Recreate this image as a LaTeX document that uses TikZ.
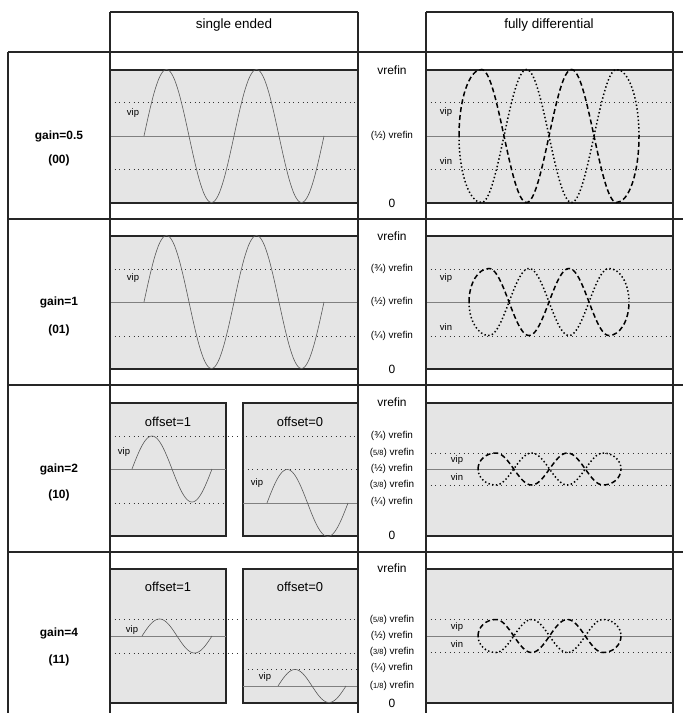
\documentclass[tikz,border=0pt]{standalone}
\usepackage{fontspec}
\setmainfont{Liberation Sans}
\newcommand\smallfr{\fontsize{7.5}{9}\selectfont}
% style, start x, period, centre y, signed amplitude
\newcommand\diffwave[5]{%
  \draw[#1] (#2,#4) .. controls (#2,{#4-0.552*#5}) and ({#2+0.112*#3},{#4-#5}) .. ({#2+#3/4},{#4-#5})
    -- plot[domain=90:630, samples=121] ({#2+\x/360*#3}, {#4-#5*sin(\x)})
    .. controls ({#2+1.888*#3},{#4+#5}) and ({#2+2*#3},{#4+0.552*#5}) .. ({#2+2*#3},#4);}
\begin{document}
\begin{tikzpicture}[x=1bp, y=-1bp,
  grid/.style={draw=black!85, line width=1.2bp},
  band/.style={fill=black!10, draw=black!85, line width=1.2bp},
  midline/.style={draw=black!50, line width=0.9bp},
  level/.style={draw=black!80, line width=0.9bp, dash pattern=on 0.9bp off 3.8bp},
  wave/.style={draw=black!65, line width=0.6bp},
  vp/.style={draw=black, line width=1.5bp, dash pattern=on 5bp off 3bp},
  vn/.style={draw=black, line width=1.5bp, dash pattern=on 1.4bp off 2.4bp},
  txt/.style={inner sep=0pt},
  head/.style={txt, font=\fontsize{13.5}{16}\selectfont},
  gain/.style={txt, font=\bfseries\fontsize{12}{14}\selectfont},
  ref/.style={txt, font=\fontsize{12}{14}\selectfont},
  frac/.style={txt, font=\fontsize{10}{12}\selectfont},
  sig/.style={txt, font=\fontsize{9.5}{11}\selectfont},
  offs/.style={txt, font=\fontsize{13}{15}\selectfont}]

\useasboundingbox (0,0) rectangle (683,713);

% ---------- gain=0.5 ----------
\draw[band] (110,70) rectangle (358,203);
\draw[band] (426,70) rectangle (673,203);
\draw[level] (110,102.7) -- (358,102.7);
\draw[level] (110,169.3) -- (358,169.3);
\draw[level] (426,102.7) -- (673,102.7);
\draw[level] (426,169.3) -- (673,169.3);
\draw[midline] (110,136) -- (358,136);
\draw[midline] (426,136) -- (673,136);
\draw[wave] plot[domain=0:720, samples=145] ({144+\x/4}, {136-66.5*sin(\x)});
\diffwave{vp}{459}{90}{136}{66.5}
\diffwave{vn}{459}{90}{136}{-66.5}
\node[sig] (vipa) at (133,113) {vip};
\node[sig] (vipda) at (446,112) {vip};
\node[sig] (vinda) at (446,161) {vin};
\node[gain] (gaina) at (59,136) {gain=0.5};
\node[gain] (codea) at (59,160) {(00)};
\node[ref] (topa) at (392,70) {vrefin};
\node[frac] (halfa) at (392,136) {(½) vrefin};
\node[ref] (zeroa) at (392,203) {0};

% ---------- gain=1 ----------
\draw[band] (110,236) rectangle (358,369);
\draw[band] (426,236) rectangle (673,369);
\draw[level] (110,269) -- (358,269);
\draw[level] (110,336) -- (358,336);
\draw[level] (426,269) -- (673,269);
\draw[level] (426,336) -- (673,336);
\draw[midline] (110,302) -- (358,302);
\draw[midline] (426,302) -- (673,302);
\draw[wave] plot[domain=0:720, samples=145] ({144+\x/4}, {302-66.5*sin(\x)});
\diffwave{vp}{469}{80}{302}{33.5}
\diffwave{vn}{469}{80}{302}{-33.5}
\node[sig] (vipb) at (133,278) {vip};
\node[sig] (vipdb) at (446,278) {vip};
\node[sig] (vindb) at (446,327) {vin};
\node[gain] (gainb) at (59,302) {gain=1};
\node[gain] (codeb) at (59,330) {(01)};
\node[ref] (topb) at (392,236) {vrefin};
\node[frac] (q3b) at (392,269) {(¾) vrefin};
\node[frac] (halfb) at (392,302) {(½) vrefin};
\node[frac] (q1b) at (392,336) {(¼) vrefin};
\node[ref] (zerob) at (392,369) {0};

% ---------- gain=2 ----------
\draw[band] (110,403) rectangle (226,536);
\draw[band] (243,403) rectangle (358,536);
\draw[band] (426,403) rectangle (673,536);
\draw[level] (110,436) -- (358,436);
\draw[level] (110,503) -- (226,503);
\draw[level] (243,469) -- (358,469);
\draw[midline] (110,469) -- (226,469);
\draw[midline] (243,503) -- (358,503);
\draw[level] (426,453) -- (673,453);
\draw[level] (426,485) -- (673,485);
\draw[midline] (426,469) -- (673,469);
\draw[wave] plot[domain=0:360, samples=73] ({132+\x/4.5}, {469-33*sin(\x)});
\draw[wave] plot[domain=0:360, samples=73] ({267+\x/4.444}, {503-33.5*sin(\x)});
\diffwave{vp}{478}{71.5}{469}{16}
\diffwave{vn}{478}{71.5}{469}{-16}
\node[offs] (offc1) at (168,422) {offset=1};
\node[offs] (offc0) at (300,422) {offset=0};
\node[sig] (vipc1) at (124,452) {vip};
\node[sig] (vipc0) at (257,483) {vip};
\node[sig] (vipdc) at (457,460) {vip};
\node[sig] (vindc) at (457,477) {vin};
\node[gain] (gainc) at (59,469) {gain=2};
\node[gain] (codec) at (59,495) {(10)};
\node[ref] (topc) at (392,402) {vrefin};
\node[frac] (q3c) at (392,436) {(¾) vrefin};
\node[frac] (e5c) at (392,453) {({\smallfr 5/8}) vrefin};
\node[frac] (halfc) at (392,469) {(½) vrefin};
\node[frac] (e3c) at (392,485) {({\smallfr 3/8}) vrefin};
\node[frac] (q1c) at (392,502) {(¼) vrefin};
\node[ref] (zeroc) at (392,535) {0};

% ---------- gain=4 ----------
\draw[band] (110,569) rectangle (226,703);
\draw[band] (243,569) rectangle (358,703);
\draw[band] (426,569) rectangle (673,703);
\draw[level] (110,619) -- (358,619);
\draw[level] (110,653) -- (358,653);
\draw[level] (243,669) -- (358,669);
\draw[midline] (110,636) -- (226,636);
\draw[midline] (243,686) -- (358,686);
\draw[level] (426,619) -- (673,619);
\draw[level] (426,652) -- (673,652);
\draw[midline] (426,636) -- (673,636);
\draw[wave] plot[domain=0:360, samples=73] ({142+\x/5.143}, {636-17*sin(\x)});
\draw[wave] plot[domain=0:360, samples=73] ({278+\x/5.294}, {686-16.5*sin(\x)});
\diffwave{vp}{478}{71.5}{636}{16.5}
\diffwave{vn}{478}{71.5}{636}{-16.5}
\node[offs] (offd1) at (168,587) {offset=1};
\node[offs] (offd0) at (300,587) {offset=0};
\node[sig] (vipd1) at (132,630) {vip};
\node[sig] (vipd0) at (265,677) {vip};
\node[sig] (vipdd) at (457,627) {vip};
\node[sig] (vindd) at (457,644) {vin};
\node[gain] (gaind) at (59,633) {gain=4};
\node[gain] (coded) at (59,660) {(11)};
\node[ref] (topd) at (392,568) {vrefin};
\node[frac] (e5d) at (392,620) {({\smallfr 5/8}) vrefin};
\node[frac] (halfd) at (392,636) {(½) vrefin};
\node[frac] (e3d) at (392,652) {({\smallfr 3/8}) vrefin};
\node[frac] (q1d) at (392,668) {(¼) vrefin};
\node[frac] (e1d) at (392,686) {({\smallfr 1/8}) vrefin};
\node[ref] (zerod) at (392,703) {0};

% ---------- table ----------
\draw[grid] (110,12) -- (358,12);
\draw[grid] (426,12) -- (673,12);
\node[head] (single) at (234,25) {single ended};
\node[head] (fully) at (549,25) {fully differential};
\draw[grid] (8,52) -- (8,713);
\draw[grid] (110,12) -- (110,713);
\draw[grid] (358,12) -- (358,713);
\draw[grid] (426,12) -- (426,713);
\draw[grid] (673,12) -- (673,713);
\draw[grid] (8,52) -- (683,52);
\draw[grid] (8,219) -- (683,219);
\draw[grid] (8,385) -- (683,385);
\draw[grid] (8,552) -- (683,552);

\end{tikzpicture}
\end{document}
